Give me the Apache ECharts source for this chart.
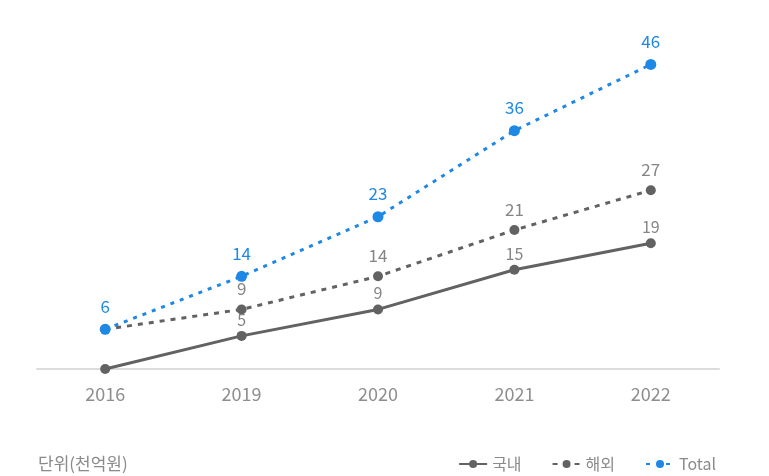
<!DOCTYPE html>
<html>
<head>
<meta charset="utf-8">
<script src="https://cdn.jsdelivr.net/npm/echarts@6/dist/echarts.min.js"></script>
<style>
  html, body { margin: 0; padding: 0; background: #fff; }
  #chart { width: 769px; height: 476px; }
</style>
</head>
<body>
<div id="chart"></div>
<script>
const years = ["2016", "2019", "2020", "2021", "2022"];
const domestic = [0, 5, 9, 15, 19];
const overseas = [6, 9, 14, 21, 27];
const total = [6, 14, 23, 36, 46];

const grayLine = "#626262";
const grayText = "#858585";
const blue = "#1e88e5";
const font = "'Noto Sans CJK KR', 'Noto Sans', sans-serif";

// first point of the gray series carries no label
const withLabels = (values, skipFirst) =>
  values.map((v, i) => (skipFirst && i === 0 ? { value: v, label: { show: false } } : v));

const chart = echarts.init(document.getElementById("chart"), null, { renderer: "canvas" });

const labelStyle = (color, dist) => ({
  show: true,
  position: "top",
  distance: dist,
  color: color,
  fontSize: 17,
  fontFamily: font,
});

chart.setOption({
  animation: false,
  textStyle: { fontFamily: font },
  title: {
    text: "단위(천억원)",
    left: 33,
    top: 450,
    textStyle: { fontSize: 17, fontWeight: "normal", color: "#8a8a8a", fontFamily: font },
  },
  legend: {
    right: 48,
    top: 451,
    itemWidth: 28,
    itemHeight: 10,
    itemGap: 30,
    textStyle: { fontSize: 16, color: "#8a8a8a", fontFamily: font },
    data: ["국내", "해외", "Total"],
  },
  grid: { left: 37, right: 50, top: 38, bottom: 107 },
  xAxis: {
    type: "category",
    data: years,
    boundaryGap: true,
    axisLine: { lineStyle: { color: "#dcdcdc", width: 2 } },
    axisTick: { show: false },
    axisLabel: { color: "#8e8e8e", fontSize: 18, margin: 16, fontFamily: font },
  },
  yAxis: {
    type: "value",
    min: 0,
    max: 50,
    show: false,
    splitLine: { show: false },
  },
  series: [
    {
      name: "국내",
      type: "line",
      data: withLabels(domestic, true),
      symbol: "circle",
      symbolSize: 10,
      itemStyle: { color: grayLine },
      lineStyle: { color: grayLine, width: 3 },
      label: Object.assign(labelStyle(grayText, 3), { fontSize: 16 }),
      z: 3,
    },
    {
      name: "해외",
      type: "line",
      data: withLabels(overseas, true),
      symbol: "circle",
      symbolSize: 10,
      itemStyle: { color: grayLine },
      lineStyle: { color: grayLine, width: 3, type: [5, 6] },
      label: labelStyle(grayText, 7),
      z: 3,
    },
    {
      name: "Total",
      type: "line",
      data: total,
      symbol: "circle",
      symbolSize: 11,
      itemStyle: { color: blue },
      lineStyle: { color: blue, width: 3, type: [4, 6] },
      label: labelStyle(blue, 9),
      z: 4,
    },
  ],
});
</script>
</body>
</html>
